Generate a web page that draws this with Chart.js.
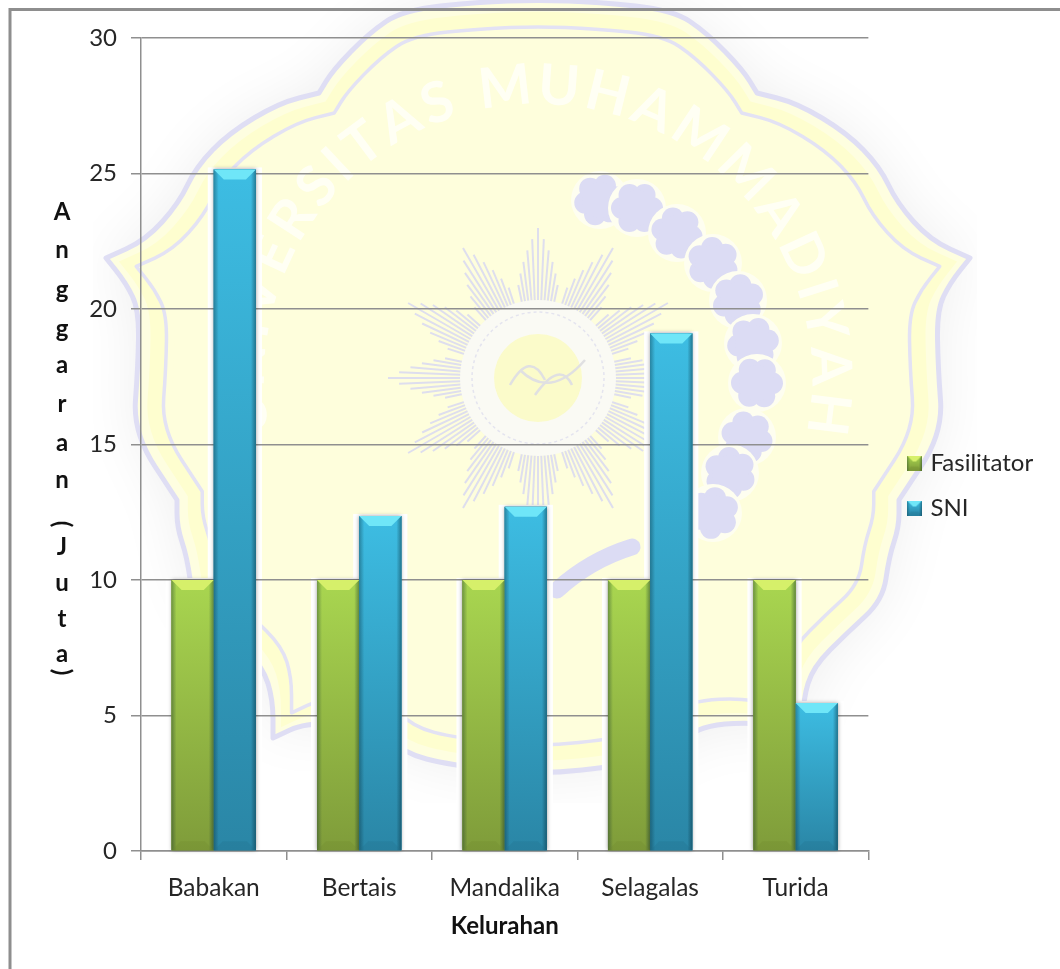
<!DOCTYPE html>
<html><head><meta charset="utf-8">
<style>html,body{margin:0;padding:0;background:#fff}canvas{display:block}</style>
<script src="https://cdn.jsdelivr.net/npm/chart.js@4/dist/chart.umd.min.js"></script>
</head><body>
<div style="width:1060px;height:969px"><canvas id="c" width="1060" height="969"></canvas></div>
<script>
const categories=['Babakan','Bertais','Mandalika','Selagalas','Turida'];
const fasilitator=[10,10,10,10,10];
const sni=[25.15,12.36,12.7,19.1,5.46];
const yTicks=[0,5,10,15,20,25,30];
const xTitle='Kelurahan';
const yTitleLetters=['A','n','g','g','a','r','a','n','(','J','u','t','a',')'];
const yTitleRows=[212,250,290,329,365,404,443,480,524,547,583,619,654,672];

const FONT='Lato, sans-serif', INK='#262626', GRID='#8f8f8f';
const PAL={
 green:{top:'#a9d650',bot:'#7f9c3a',cap:'#d6f06a',edge:'#66802c',low:'#6e8a30'},
 blue:{top:'#3dbde3',bot:'#2a86a6',cap:'#6fe6f8',edge:'#1f6f8c',low:'#226f8c'}
};

function halfPath(){return [[0,-378],[60,-376],[135,-368],[169,-345],[205,-308],[219,-285,1],[259,-275],[309,-245],[342,-211],[359,-175],[392,-138],[432,-120,1],[412,-95],[399,-68],[400,-11],[405,55],[361,122,1],[361,149],[351,179],[345,222],[309,255],[275,289],[265,322],[265,360,1],[231,344],[160,347],[135,375],[88,387],[0,397]];}
function shapePath(ctx,k){
 const cx=538,cy=378,h=halfPath(),pts=[...h,...h.slice(1,-1).reverse().map(p=>[-p[0],p[1],p[2]])];
 const n=pts.length,mid=i=>{const a=pts[i%n],b=pts[(i+1)%n];return [cx+(a[0]+b[0])/2*k,cy+(a[1]+b[1])/2*k];};
 ctx.beginPath();
 let m=mid(0);ctx.moveTo(m[0],m[1]);
 for(let i=1;i<=n;i++){
  const p=pts[i%n],x=cx+p[0]*k,y=cy+p[1]*k;m=mid(i);
  if(p[2]){ctx.lineTo(x,y);ctx.lineTo(m[0],m[1]);}
  else ctx.quadraticCurveTo(x,y,m[0],m[1]);
 }
 ctx.closePath();
}
function drawWatermark(ctx){
 const cx=538,cy=378;
 ctx.save();
 ctx.beginPath();ctx.rect(93,0,884,803);ctx.clip();
 ctx.save();ctx.shadowColor='rgba(0,0,0,.07)';ctx.shadowBlur=60;ctx.fillStyle='#fefef0';shapePath(ctx,1);ctx.fill();ctx.restore();
 ctx.fillStyle='#fefee0';shapePath(ctx,1);ctx.fill();
 ctx.strokeStyle='#dfdef4';ctx.lineWidth=5;ctx.lineJoin='round';shapePath(ctx,1);ctx.stroke();
 ctx.fillStyle='#fefecf';shapePath(ctx,.97);ctx.fill();
 ctx.fillStyle='#fefedc';shapePath(ctx,.93);ctx.fill();
 ctx.lineWidth=3.5;ctx.strokeStyle='#e3e2f4';shapePath(ctx,.93);ctx.stroke();
 ctx.fillStyle='#fefedc';shapePath(ctx,.91);ctx.fill();
 // arc lettering
 ctx.font='bold 56px '+FONT;ctx.fillStyle='rgba(255,255,250,.8)';ctx.textAlign='center';ctx.textBaseline='middle';
 const word='UNIVERSITAS MUHAMMADIYAH';
 const ws=word.split('').map(ch=>ctx.measureText(ch).width+7),tot=ws.reduce((a,b)=>a+b,0);
 let run=-tot/2;
 word.split('').forEach((ch,i)=>{
  const a=(run+ws[i]/2)/292;run+=ws[i];
  ctx.save();ctx.translate(cx+Math.sin(a)*292,cy-Math.cos(a)*292);ctx.rotate(a);ctx.fillText(ch,0,0);ctx.restore();
 });
 // sun rays
 ctx.strokeStyle='#dedeee';ctx.lineWidth=2;
 for(let g=0;g<12;g++){
  const base=g*30*Math.PI/180;
  for(let j=-5;j<=5;j++){
   const a=base+j*2.4*Math.PI/180,r=150-Math.abs(j)*11;
   ctx.beginPath();ctx.moveTo(cx+Math.sin(a)*72,cy-Math.cos(a)*72);ctx.lineTo(cx+Math.sin(a)*r,cy-Math.cos(a)*r);ctx.stroke();
  }
 }
 ctx.fillStyle='#fafaf4';ctx.beginPath();ctx.arc(cx,cy,78,0,7);ctx.fill();
 ctx.strokeStyle='#e4e4ef';ctx.lineWidth=1.5;ctx.setLineDash([3,3]);ctx.beginPath();ctx.arc(cx,cy,66,0,7);ctx.stroke();ctx.setLineDash([]);
 ctx.fillStyle='#fbfbca';ctx.beginPath();ctx.arc(cx,cy,44,0,7);ctx.fill();
 ctx.strokeStyle='#e0e0e2';ctx.lineWidth=2.5;
 [[510,385,530,350,545,380],[535,395,560,360,572,385],[520,370,550,400,585,360]].forEach(s=>{ctx.beginPath();ctx.moveTo(s[0],s[1]);ctx.quadraticCurveTo(s[2],s[3],s[4],s[5]);ctx.stroke();});
 // wreath
 const blobs=[[600,200],[637,208],[677,233],[713,263],[738,300],[753,343],[757,383],[747,437],[730,473],[713,513]];
 blobs.forEach(b=>{
  const dir=Math.atan2(b[1]-378,b[0]-538);
  ctx.fillStyle='#fefef0';ctx.beginPath();ctx.arc(b[0],b[1],29,0,7);ctx.fill();
  ctx.fillStyle='#dcdcf4';
  for(let t=0;t<6;t++){const a=dir+t*Math.PI/3;ctx.beginPath();ctx.arc(b[0]+Math.cos(a)*15,b[1]+Math.sin(a)*15,11,0,7);ctx.fill();}
  ctx.beginPath();ctx.arc(b[0],b[1],18,0,7);ctx.fill();
 });
 ctx.strokeStyle='#dcdcf4';ctx.lineWidth=17;ctx.lineCap='round';ctx.beginPath();ctx.moveTo(632,547);ctx.quadraticCurveTo(590,560,557,590);ctx.stroke();ctx.lineCap='butt';
 ctx.restore();
}
function drawBevelBar(ctx,l,t,w,h,p,cap,low,side){
 const g=ctx.createLinearGradient(0,t,0,t+h);g.addColorStop(0,p.top);g.addColorStop(1,p.bot);
 ctx.fillStyle=g;ctx.fillRect(l,t,w,h);
 const lg=ctx.createLinearGradient(l,0,l+side,0);lg.addColorStop(0,'rgba(0,30,40,.34)');lg.addColorStop(1,'rgba(0,30,40,0)');
 ctx.fillStyle=lg;ctx.fillRect(l,t,side,h);
 const rg=ctx.createLinearGradient(l+w-side,0,l+w,0);rg.addColorStop(0,'rgba(0,30,40,0)');rg.addColorStop(1,'rgba(0,30,40,.42)');
 ctx.fillStyle=rg;ctx.fillRect(l+w-side,t,side,h);
 ctx.fillStyle=p.cap;ctx.beginPath();ctx.moveTo(l,t);ctx.lineTo(l+w,t);ctx.lineTo(l+w-cap,t+cap);ctx.lineTo(l+cap,t+cap);ctx.closePath();ctx.fill();
 ctx.fillStyle=p.low;ctx.globalAlpha=.28;ctx.beginPath();ctx.moveTo(l,t+h);ctx.lineTo(l+w,t+h);ctx.lineTo(l+w-low,t+h-low);ctx.lineTo(l+low,t+h-low);ctx.closePath();ctx.fill();ctx.globalAlpha=1;
}
function swatch(p){
 const c=document.createElement('canvas');c.width=15;c.height=15;
 drawBevelBar(c.getContext('2d'),0,0,15,15,p,6,4,3);
 return c;
}
const barStyle={
 id:'barStyle',
 beforeDraw(chart){
  const ctx=chart.ctx;
  ctx.save();ctx.fillStyle='#fff';ctx.fillRect(0,0,chart.width,chart.height);
  drawWatermark(ctx);
  ctx.strokeStyle='#8e8e8e';ctx.lineWidth=3;
  ctx.beginPath();ctx.moveTo(10,969);ctx.lineTo(10,9.5);ctx.lineTo(1060,9.5);ctx.stroke();
  ctx.fillStyle='#fff';
  chart.data.datasets.forEach((d,i)=>chart.getDatasetMeta(i).data.forEach(b=>{
   ctx.fillRect(b.x-b.width/2-6,b.y-2,b.width+12,b.base-b.y+2);
  }));
  ctx.restore();
 },
 afterDatasetsDraw(chart){
  const ctx=chart.ctx;ctx.save();
  const pals=[PAL.green,PAL.blue];
  chart.data.datasets.forEach((d,i)=>chart.getDatasetMeta(i).data.forEach(b=>{
   const l=b.x-b.width/2,t=b.y,w=b.width,h=b.base-b.y;
   ctx.save();ctx.shadowColor='rgba(0,0,0,.4)';ctx.shadowBlur=4;ctx.fillStyle=pals[i].bot;ctx.fillRect(l,t,w,h);ctx.restore();
  }));
  chart.data.datasets.forEach((d,i)=>chart.getDatasetMeta(i).data.forEach(b=>{
   drawBevelBar(ctx,b.x-b.width/2,b.y,b.width,b.base-b.y,pals[i],10,9,5);
  }));
  ctx.fillStyle='#111';ctx.font='bold 24px '+FONT;ctx.textAlign='center';ctx.textBaseline='middle';
  yTitleLetters.forEach((ch,i)=>{
   ctx.save();ctx.translate(62,yTitleRows[i]);
   if(ch==='('||ch===')')ctx.rotate(Math.PI/2);
   ctx.fillText(ch,0,0);ctx.restore();
  });
  ctx.restore();
 },
 afterLayout(chart){
  const lg=chart.legend,w=lg.width,h=lg.height;
  lg.left=889.5;lg.right=lg.left+w;lg.top=430;lg.bottom=lg.top+h;lg.adjustHitBoxes();
 }
};
new Chart(document.getElementById('c'),{
 type:'bar',
 data:{labels:categories,datasets:[
  {label:'Fasilitator',data:fasilitator,backgroundColor:PAL.green.bot,borderWidth:0,pointStyle:swatch(PAL.green)},
  {label:'SNI',data:sni,backgroundColor:PAL.blue.bot,borderWidth:0,pointStyle:swatch(PAL.blue)}
 ]},
 plugins:[barStyle],
 options:{
  responsive:false,animation:false,
  layout:{padding:{top:38,left:0,right:38,bottom:28}},
  datasets:{bar:{categoryPercentage:.58,barPercentage:1}},
  scales:{
   x:{
    border:{color:GRID,width:1.5},
    grid:{drawOnChartArea:false,drawTicks:true,tickLength:9,color:GRID,lineWidth:1.5},
    ticks:{color:INK,font:{family:FONT,size:24.5},padding:13,maxRotation:0},
    title:{display:true,text:xTitle,color:'#111',font:{family:FONT,size:24,weight:'bold'},padding:{top:6,bottom:0}},
    afterFit(s){s.height=90;}
   },
   y:{
    min:0,max:30,
    border:{color:GRID,width:1.5},
    grid:{color:GRID,lineWidth:1.5,tickLength:10},
    afterBuildTicks(s){s.ticks=yTicks.map(v=>({value:v}));},
    ticks:{color:INK,font:{family:FONT,size:24},padding:14},
    afterFit(s){s.width=141;}
   }
  },
  plugins:{
   tooltip:{enabled:false},
   legend:{
    position:'right',align:'start',
    labels:{usePointStyle:true,color:INK,font:{family:FONT,size:24},padding:21,boxWidth:8}
   }
  }
 }
});
</script></body></html>
